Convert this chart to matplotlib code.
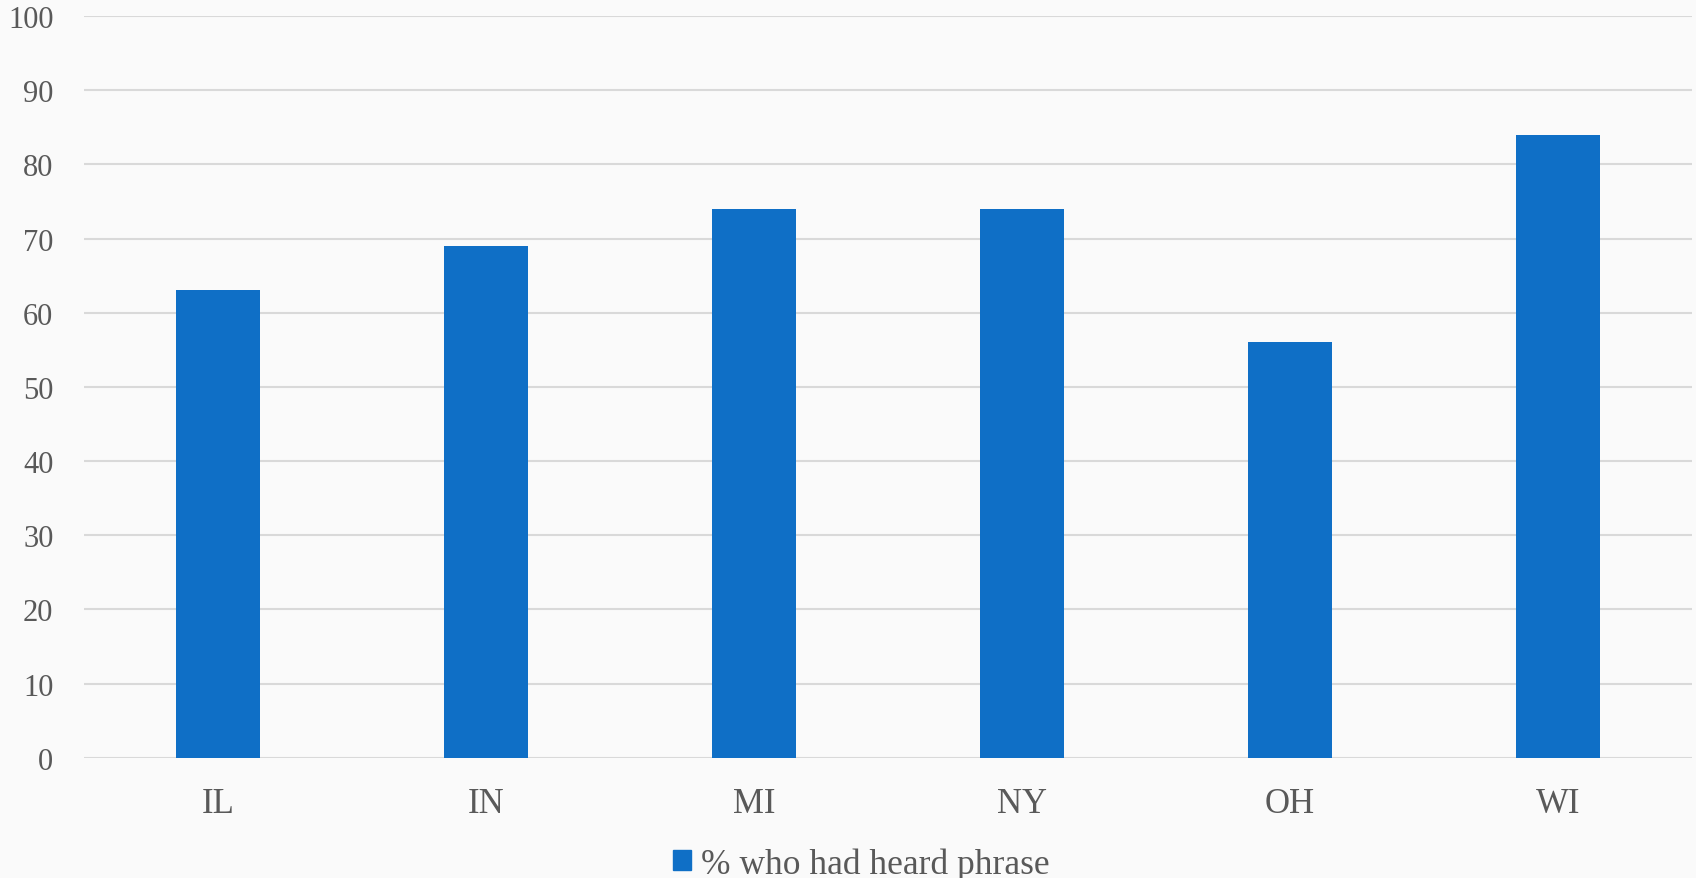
import matplotlib
matplotlib.use("Agg")
import matplotlib.pyplot as plt
from matplotlib.patches import Patch

categories = ["IL", "IN", "MI", "NY", "OH", "WI"]
values = [63, 69, 74, 74, 56, 84]
yticks = [0, 10, 20, 30, 40, 50, 60, 70, 80, 90, 100]
series_name = "% who had heard phrase"

plt.rcParams['font.family'] = ['Liberation Serif', 'DejaVu Serif']
bg = "#fafafa"
bar_color = "#0F6FC6"
text_color = "#595959"

fig = plt.figure(figsize=(16.96, 8.79), dpi=100, facecolor=bg)
ax = fig.add_axes([84/1696, 1-758.7/879, (1691.7-84)/1696, (758.7-17)/879])
ax.set_facecolor(bg)

x = range(len(categories))
ax.bar(x, values, width=0.3125, color=bar_color, zorder=3)
ax.set_xlim(-0.5, len(categories)-0.5)
ax.set_ylim(0, 100)
ax.set_yticks(yticks)
ax.set_yticklabels([str(t) for t in yticks])
ax.set_xticks(list(x))
ax.set_xticklabels(categories)
ax.yaxis.grid(True, color="#d9d9d9", linewidth=1.5, zorder=0)
ax.set_axisbelow(True)
for s in ax.spines.values():
    s.set_visible(False)
ax.tick_params(axis='both', length=0, colors=text_color)
ax.tick_params(axis='y', pad=22, labelsize=22)
ax.tick_params(axis='x', pad=21, labelsize=25)

fig.legend(handles=[Patch(color=bar_color, label=series_name)],
           loc='center', bbox_to_anchor=(0.508, 0.016), frameon=False,
           fontsize=25.5, labelcolor=text_color, handlelength=0.5, handleheight=0.5,
           handletextpad=0.3)

fig.savefig("out.png", dpi=100, facecolor=bg)
